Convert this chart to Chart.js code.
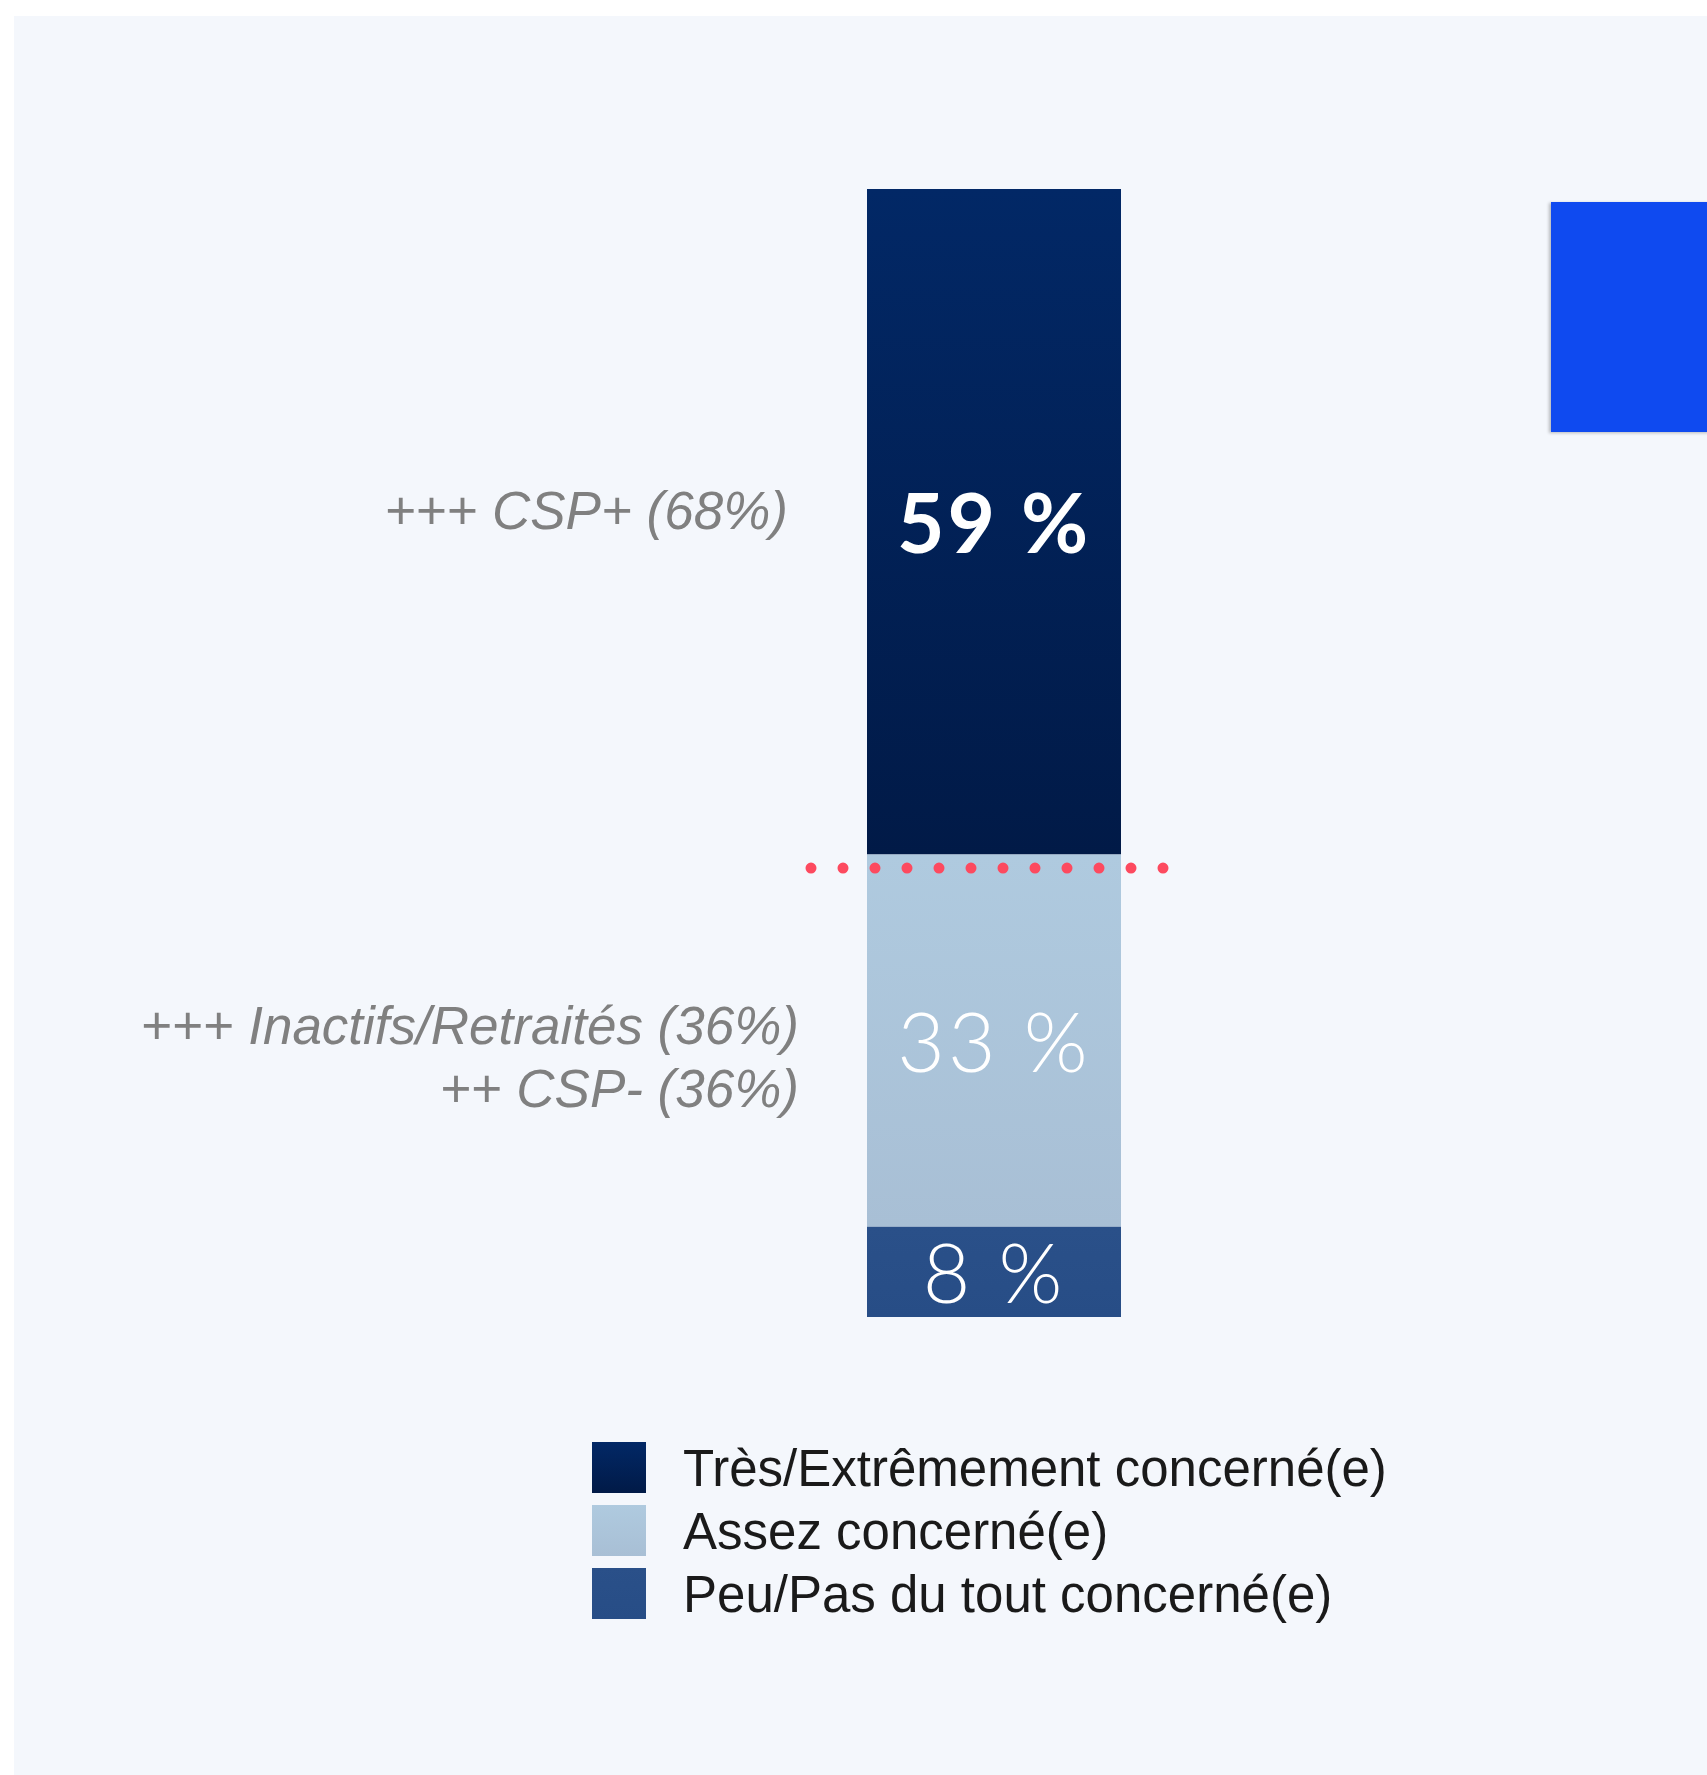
<!DOCTYPE html>
<html lang="fr">
<head>
<meta charset="utf-8">
<script src="https://cdn.jsdelivr.net/npm/chart.js@4"></script>
<style>
  html, body { margin: 0; padding: 0; background: #ffffff; }
  body { width: 1707px; height: 1775px; position: relative; overflow: hidden; }
  #fond { position: absolute; left: 14px; top: 16px; right: 0; bottom: 0; background: #f4f7fc; }
  #bloc { position: absolute; left: 1551px; top: 202px; width: 160px; height: 230px; background: #0f4af0;
          box-shadow: -2px 1px 3px rgba(0,0,0,0.25); }
  #zone { position: absolute; left: 0; top: 0; width: 1707px; height: 1775px; }
</style>
</head>
<body>
<div id="fond"></div>
<div id="bloc"></div>
<div id="zone"><canvas id="graphique" width="1707" height="1775"></canvas></div>
<script>
// Données (de bas en haut de la barre)
const categories = [''];
const libelles = ['Peu/Pas du tout concerné(e)', 'Assez concerné(e)', 'Très/Extrêmement concerné(e)'];
const valeurs = [8, 33, 59];
const couleursHaut = ['#2a5089', '#afcadf', '#022866'];
const couleursBas = ['#274d86', '#a8bfd5', '#011a47'];
const etiquettes = ['8 %', '33 %', '59 %'];
// Notes à gauche de chaque segment
const notes = [[], ['+++ Inactifs/Retraités (36%)', '++ CSP- (36%)'], ['+++ CSP+ (68%)']];
const repere = 39.8; // ligne pointillée rouge
const ordreLegende = [2, 1, 0];

document.addEventListener("DOMContentLoaded", function() {
    const canvas = document.getElementById('graphique');
    const ctx = canvas.getContext('2d');

    // Dégradé vertical sur l'étendue du segment
    function degrade(i) {
        return function(context) {
            const chart = context.chart;
            const y = chart.scales.y;
            if (!chart.chartArea || !y) return couleursHaut[i];
            let bas = 0;
            for (let k = 0; k < i; k++) bas += valeurs[k];
            const haut = bas + valeurs[i];
            const g = chart.ctx.createLinearGradient(0, y.getPixelForValue(haut), 0, y.getPixelForValue(bas));
            g.addColorStop(0, couleursHaut[i]);
            g.addColorStop(1, couleursBas[i]);
            return g;
        };
    }

    const datasets = valeurs.map((v, i) => ({
        label: libelles[i],
        data: [v],
        backgroundColor: degrade(i),
        borderWidth: 0,
        barPercentage: 0.5,
        categoryPercentage: 1
    }));

    // Textes, pointillés et légende dessinés par-dessus
    const decor = {
        id: 'decor',
        afterDatasetsDraw(chart) {
            const c = chart.ctx;
            const y = chart.scales.y;
            c.save();

            // ligne pointillée
            const barre0 = chart.getDatasetMeta(0).data[0];
            const yr = y.getPixelForValue(repere);
            c.strokeStyle = '#fd4a5f';
            c.lineWidth = 11;
            c.lineCap = 'round';
            c.setLineDash([0, 32]);
            c.beginPath();
            c.moveTo(barre0.x - 183, yr);
            c.lineTo(barre0.x + 172, yr);
            c.stroke();
            c.setLineDash([]);

            chart.data.datasets.forEach((ds, i) => {
                const el = chart.getDatasetMeta(i).data[0];
                const milieu = (el.y + el.base) / 2;
                // valeur dans la barre
                c.fillStyle = '#ffffff';
                c.textAlign = 'center';
                c.textBaseline = 'middle';
                c.font = (i === 2 ? 'bold ' : '300 ') + '82px Lato, "Noto Sans", sans-serif';
                if (c.letterSpacing !== undefined) c.letterSpacing = '3px';
                c.fillText(etiquettes[i], el.x, milieu + 5);
                if (c.letterSpacing !== undefined) c.letterSpacing = '0px';
                // notes à gauche
                const lignes = notes[i];
                if (lignes.length) {
                    c.fillStyle = '#808080';
                    c.textAlign = 'right';
                    c.font = 'italic 53px "Liberation Sans", Arial, sans-serif';
                    const decal = lignes.length === 1 ? -8 : -11;
                    lignes.forEach((t, k) => {
                        c.fillText(t, el.x - el.width / 2 - (lignes.length === 1 ? 79 : 68), milieu + decal + k * 63);
                    });
                }
            });

            // légende
            c.textAlign = 'left';
            c.textBaseline = 'middle';
            c.font = '51px "Liberation Sans", Arial, sans-serif';
            ordreLegende.forEach((i, k) => {
                const top = 1442 + k * 63;
                const g = c.createLinearGradient(0, top, 0, top + 51);
                g.addColorStop(0, couleursHaut[i]);
                g.addColorStop(1, couleursBas[i]);
                c.fillStyle = g;
                c.fillRect(592, top, 54, 51);
                c.fillStyle = '#1a1a1a';
                c.fillText(libelles[i], 683, top + 30);
            });
            c.restore();
        }
    };

    new Chart(ctx, {
        type: 'bar',
        data: { labels: categories, datasets: datasets },
        options: {
            responsive: false,
            devicePixelRatio: 1,
            animation: false,
            layout: { padding: { top: 189, bottom: 458, left: 740, right: 459 } },
            plugins: { legend: { display: false }, tooltip: { enabled: false } },
            scales: {
                x: { stacked: true, display: false },
                y: { stacked: true, display: false, min: 0, max: 100 }
            }
        },
        plugins: [decor]
    });
});
</script>
</body>
</html>
